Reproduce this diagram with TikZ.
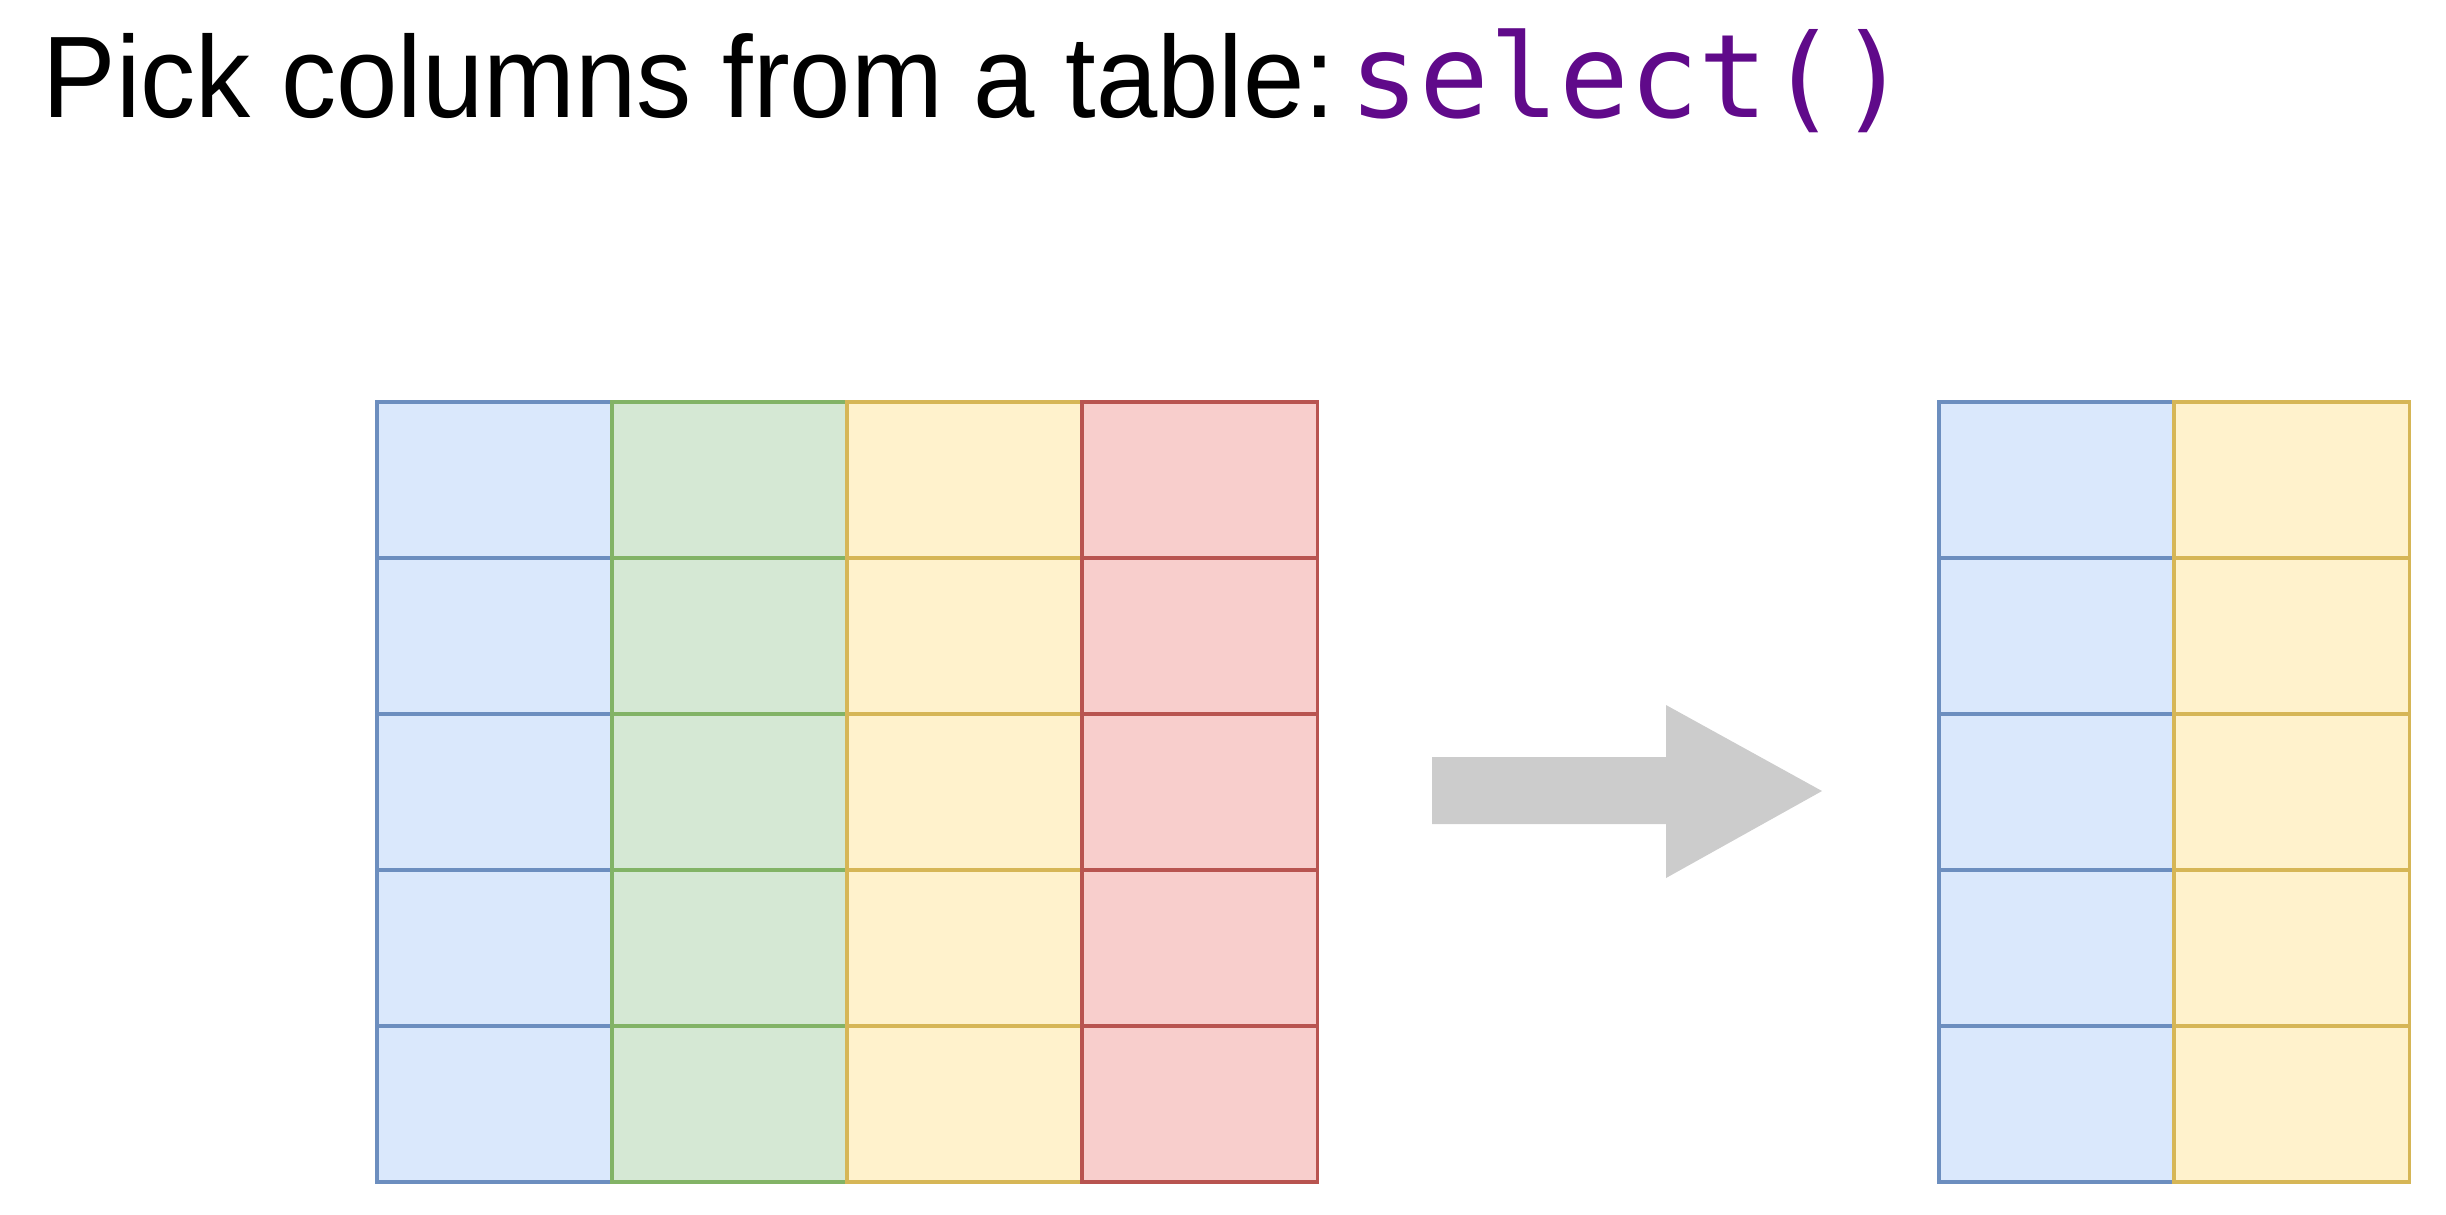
\documentclass[tikz,border=0pt]{standalone}
\usepackage{fontspec}
\setmainfont{Liberation Sans}[FakeStretch=0.95]
\newfontfamily\codefont{DejaVu Sans Mono}
\usepackage{tikz}
\usepackage{xcolor}

\definecolor{bluefill}{HTML}{DAE8FC}
\definecolor{blueline}{HTML}{6C8EBF}
\definecolor{greenfill}{HTML}{D5E8D4}
\definecolor{greenline}{HTML}{82B366}
\definecolor{yellowfill}{HTML}{FFF2CC}
\definecolor{yellowline}{HTML}{D6B656}
\definecolor{redfill}{HTML}{F8CECC}
\definecolor{redline}{HTML}{B85450}
\definecolor{arrowgray}{HTML}{CCCCCC}
\definecolor{codepurple}{HTML}{600A8A}

\begin{document}
\begin{tikzpicture}[x=0.01cm, y=-0.01cm,
  cell/.style={rectangle, fill=#1fill, draw=#1line, line width=0.9pt,
    minimum width=2.35cm, minimum height=1.56cm, inner sep=0pt, outer sep=0pt}]
\useasboundingbox (0,0) rectangle (2446,1214);

% Title
\node[anchor=base west, inner sep=0pt, font=\fontsize{33}{40}\selectfont] (title) at (42,117)
  {Pick columns from a table:\hspace{4pt}{\codefont\color{codepurple}select()}};

% Full table
\foreach \c/\i in {blue/0, green/1, yellow/2, red/3}
  \foreach \r in {0,...,4}
    \node[cell=\c] (full-\i-\r) at ({494.5+235*\i},{480+156*\r}) {};

% Arrow
\fill[arrowgray] (1432,757) -- (1666,757) -- (1666,705) -- (1822,791)
  -- (1666,878) -- (1666,824) -- (1432,824) -- cycle;

% Selected columns
\foreach \c/\i in {blue/0, yellow/1}
  \foreach \r in {0,...,4}
    \node[cell=\c] (picked-\i-\r) at ({2056.5+235*\i},{480+156*\r}) {};
\end{tikzpicture}
\end{document}
